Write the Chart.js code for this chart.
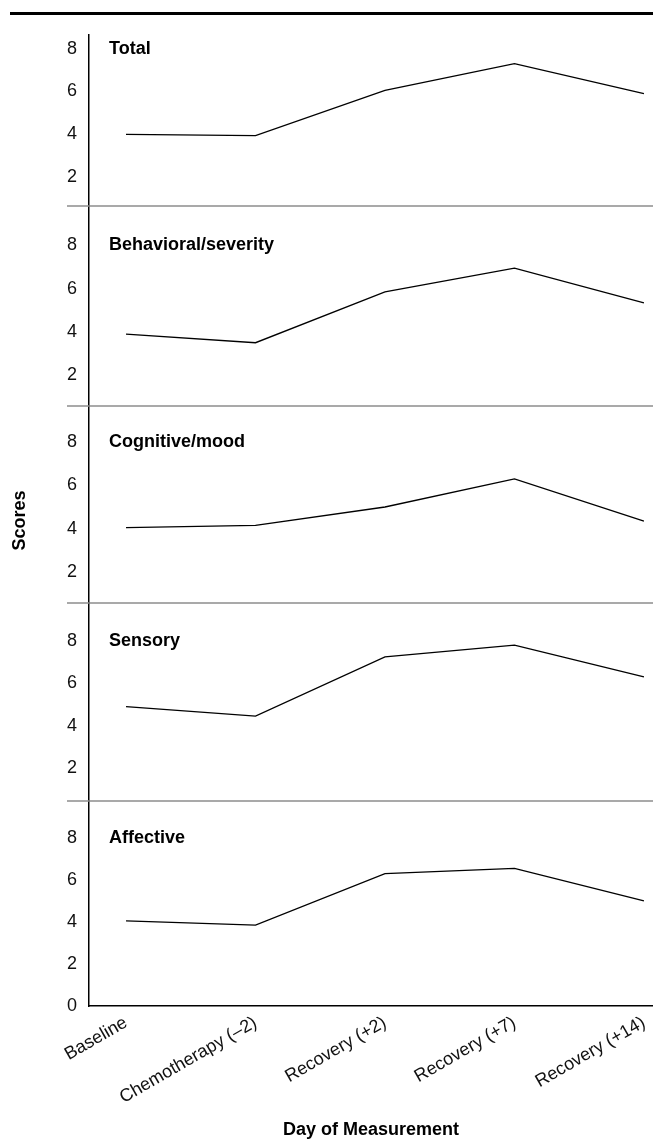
<!DOCTYPE html>
<html>
<head>
<meta charset="utf-8">
<script src="https://cdn.jsdelivr.net/npm/chart.js@4.4.1/dist/chart.umd.min.js"></script>
<style>
  html, body { margin: 0; padding: 0; background: #fff; }
  #wrap { position: relative; width: 653px; height: 1143px; }
  #rule { position: absolute; left: 10px; right: 0; top: 12px; height: 3px; background: #000; }
  #scoresChart { position: absolute; left: 0; top: 0; }
</style>
</head>
<body>
<div id="wrap">
  <div id="rule"></div>
  <canvas id="scoresChart" width="653" height="1143"></canvas>
</div>
<script>
// categories (x axis)
const dayLabels = ['Baseline', 'Chemotherapy (\u20132)', 'Recovery (+2)', 'Recovery (+7)', 'Recovery (+14)'];

// one series per panel, top to bottom
const panelTitles = ['Total', 'Behavioral/severity', 'Cognitive/mood', 'Sensory', 'Affective'];
const totalScores = [4.0, 3.95, 6.05, 7.3, 5.9];
const behavioralScores = [3.9, 3.5, 5.85, 6.95, 5.35];
const cognitiveScores = [4.05, 4.15, 5.0, 6.3, 4.35];
const sensoryScores = [4.9, 4.45, 7.25, 7.8, 6.3];
const affectiveScores = [4.05, 3.85, 6.3, 6.55, 5.0];
const panelSeries = [totalScores, behavioralScores, cognitiveScores, sensoryScores, affectiveScores];

// panel layout: visible value range and relative height of each stacked y axis
const panelRanges = [[0.67, 8.63], [0.57, 9.83], [0.57, 9.66], [0.44, 9.79], [0, 9.76]];
const panelHeights = [171, 200, 197, 198, 205];
const panelIds = ['yTotal', 'yBehavioral', 'yCognitive', 'ySensory', 'yAffective'];

const fontFamily = '"Liberation Sans", Arial, sans-serif';
const tickFont = { family: fontFamily, size: 18 };
const boldFont = { family: fontFamily, size: 18, weight: 'bold' };

const panelDecor = {
    id: 'panelDecor',
    afterDraw(chart) {
        const ctx = chart.ctx;
        const area = chart.chartArea;
        ctx.save();
        // grey rules between the panels
        ctx.strokeStyle = '#8c8c8c';
        ctx.lineWidth = 1.5;
        panelIds.slice(1).forEach(id => {
            const s = chart.scales[id];
            ctx.beginPath();
            ctx.moveTo(area.left - 22, s.top);
            ctx.lineTo(area.right, s.top);
            ctx.stroke();
        });
        // panel names, level with the 8 tick
        ctx.fillStyle = '#000';
        ctx.font = 'bold 18px ' + fontFamily;
        ctx.textBaseline = 'middle';
        ctx.textAlign = 'left';
        panelIds.forEach((id, i) => {
            const s = chart.scales[id];
            ctx.fillText(panelTitles[i], area.left + 20, s.getPixelForValue(8));
        });
        // shared y title
        ctx.translate(20, (area.top + area.bottom) / 2);
        ctx.rotate(-Math.PI / 2);
        ctx.textAlign = 'center';
        ctx.fillText('Scores', 0, 0);
        ctx.restore();
    }
};

function panelScale(i) {
    return {
        type: 'linear',
        position: 'left',
        stack: 'panels',
        stackWeight: panelHeights[i],
        weight: panelIds.length - i,
        min: panelRanges[i][0],
        max: panelRanges[i][1],
        afterFit: (s) => { s.width = 89; },
        grid: { display: false, drawTicks: false },
        border: { display: true, color: '#000', width: 1.5 },
        ticks: { stepSize: 2, includeBounds: false, padding: 12, color: '#111', font: tickFont }
    };
}

const scales = {
    x: {
        type: 'linear',
        min: -0.286,
        max: 4.07,
        afterFit: (s) => {
            s.height = 137;
            s.paddingLeft = 0;
            s.paddingRight = 0;
        },
        grid: { display: false, drawTicks: false },
        border: { display: true, color: '#000', width: 1.5 },
        ticks: {
            stepSize: 1,
            includeBounds: false,
            autoSkip: false,
            minRotation: 30,
            maxRotation: 30,
            padding: 6,
            color: '#111',
            font: tickFont,
            callback: (value) => dayLabels[value] ?? ''
        },
        title: {
            display: true,
            text: 'Day of Measurement',
            color: '#000',
            font: boldFont,
            padding: { top: 4, bottom: 2 }
        }
    }
};
panelIds.forEach((id, i) => { scales[id] = panelScale(i); });

const scoresCtx = document.getElementById('scoresChart').getContext('2d');
const scoresChart = new Chart(scoresCtx, {
    type: 'line',
    data: {
        datasets: panelSeries.map((series, i) => ({
            label: panelTitles[i],
            yAxisID: panelIds[i],
            data: series.map((v, j) => ({ x: j, y: v })),
            borderColor: '#000',
            borderWidth: 1.3,
            pointRadius: 0,
            tension: 0,
            fill: false
        }))
    },
    options: {
        responsive: false,
        animation: false,
        layout: { padding: { top: 35, left: 0, right: 0, bottom: 0 } },
        plugins: { legend: { display: false }, tooltip: { enabled: false } },
        scales: scales
    },
    plugins: [panelDecor]
});
</script>
</body>
</html>
